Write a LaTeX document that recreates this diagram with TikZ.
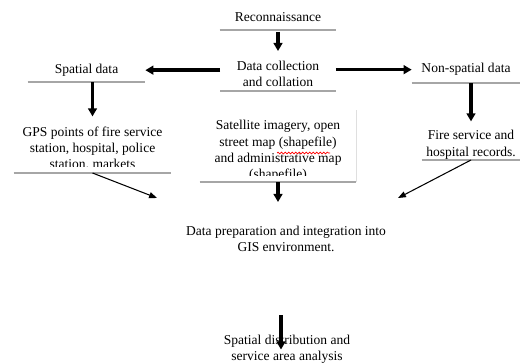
\documentclass[tikz,border=0pt]{standalone}
\usepackage{fontspec}
\setmainfont{Liberation Serif}
\usetikzlibrary{arrows.meta,decorations.pathmorphing,calc}

\begin{document}
\begin{tikzpicture}[x=0.02cm, y=-0.02cm,
    txt/.style={font=\fontsize{7.7}{9.3}\selectfont, align=center, inner sep=0pt},
    box/.style={txt, anchor=south},
    rule/.style={draw=gray!70, line width=0.6pt},
    bigarrow/.style={line width=2pt, -{Triangle[length=4.6pt,width=5pt]}},
    thinarrow/.style={line width=0.6pt, -{Triangle[length=4.5pt,width=3.4pt]}}]
    \useasboundingbox (0,0) rectangle (520,362);

    % Top of the flow
    \node[box, minimum width=2.32cm, minimum height=0.52cm] (recon) at (278,30) {Reconnaissance};
    \node[box, minimum width=2.3cm, minimum height=0.68cm] (collect) at (278,91) {Data collection\\and collation};
    \node[box, minimum width=2.34cm, minimum height=0.46cm] (spatial) at (86.5,82) {Spatial data};
    \node[box, minimum width=2.16cm, minimum height=0.52cm] (nonspatial) at (466,83) {Non-spatial data};

    % Data sources (text cut off at the bottom)
    \begin{scope}
        \clip (0,100) rectangle (200,166);
        \node[box, minimum width=3.14cm, minimum height=0.96cm] (gps) at (92.5,173)
            {GPS points of fire service\\station, hospital, police\\station, markets};
    \end{scope}
    \begin{scope}
        \clip (195,100) rectangle (360,175);
        \node[box, minimum width=3.12cm, minimum height=1.18cm] (sat) at (278,182)
            {Satellite imagery, open\\street map (shapefile)\\and administrative map\\(shapefile)};
    \end{scope}
    \draw[red, line width=0.4pt, decorate, decoration={snake, amplitude=0.5pt, segment length=2pt}]
        (277,153) -- (330,153);
    \node[box, minimum width=1.96cm, minimum height=0.6cm] (fire) at (471,160) {Fire service and\\hospital records.};

    % Lower part
    \node[txt] (prep) at (286,239) {Data preparation and integration into\\GIS environment.};
    \node[txt] (final) at (287,349.5) {Spatial distribution and\\service area analysis};

    % Rules under the boxes
    \foreach \n in {recon,collect,spatial,nonspatial,gps,sat,fire}
        \draw[rule] (\n.south west) -- (\n.south east);
    \draw[gray!25, line width=0.8pt] ($(sat.north east)+(0,-10)$) -- (sat.south east);

    % Free ends of connectors
    \coordinate (gpsin) at (157,198);
    \coordinate (satin) at (278,202);
    \coordinate (firein) at (398,198);
    \coordinate (prepout) at (281,315);

    % Arrows
    \draw[bigarrow, shorten <=1pt, shorten >=3pt] (recon.south) -- (collect.north);
    \draw[bigarrow] (collect.west |- spatial) -- (spatial.east);
    \draw[bigarrow] (collect.east |- nonspatial) -- (nonspatial.west);
    \draw[bigarrow, shorten >=4.5pt] (gps.north |- spatial.south) -- (gps.north);
    \draw[bigarrow, shorten >=4.5pt] (fire.north |- nonspatial.south) -- (fire.north);
    \draw[bigarrow] (sat.south) -- (satin);
    \draw[thinarrow] (gps.south) -- (gpsin);
    \draw[thinarrow] (fire.south) -- (firein);
    \draw[bigarrow] (prepout) -- (prepout |- final.center);
\end{tikzpicture}
\end{document}
